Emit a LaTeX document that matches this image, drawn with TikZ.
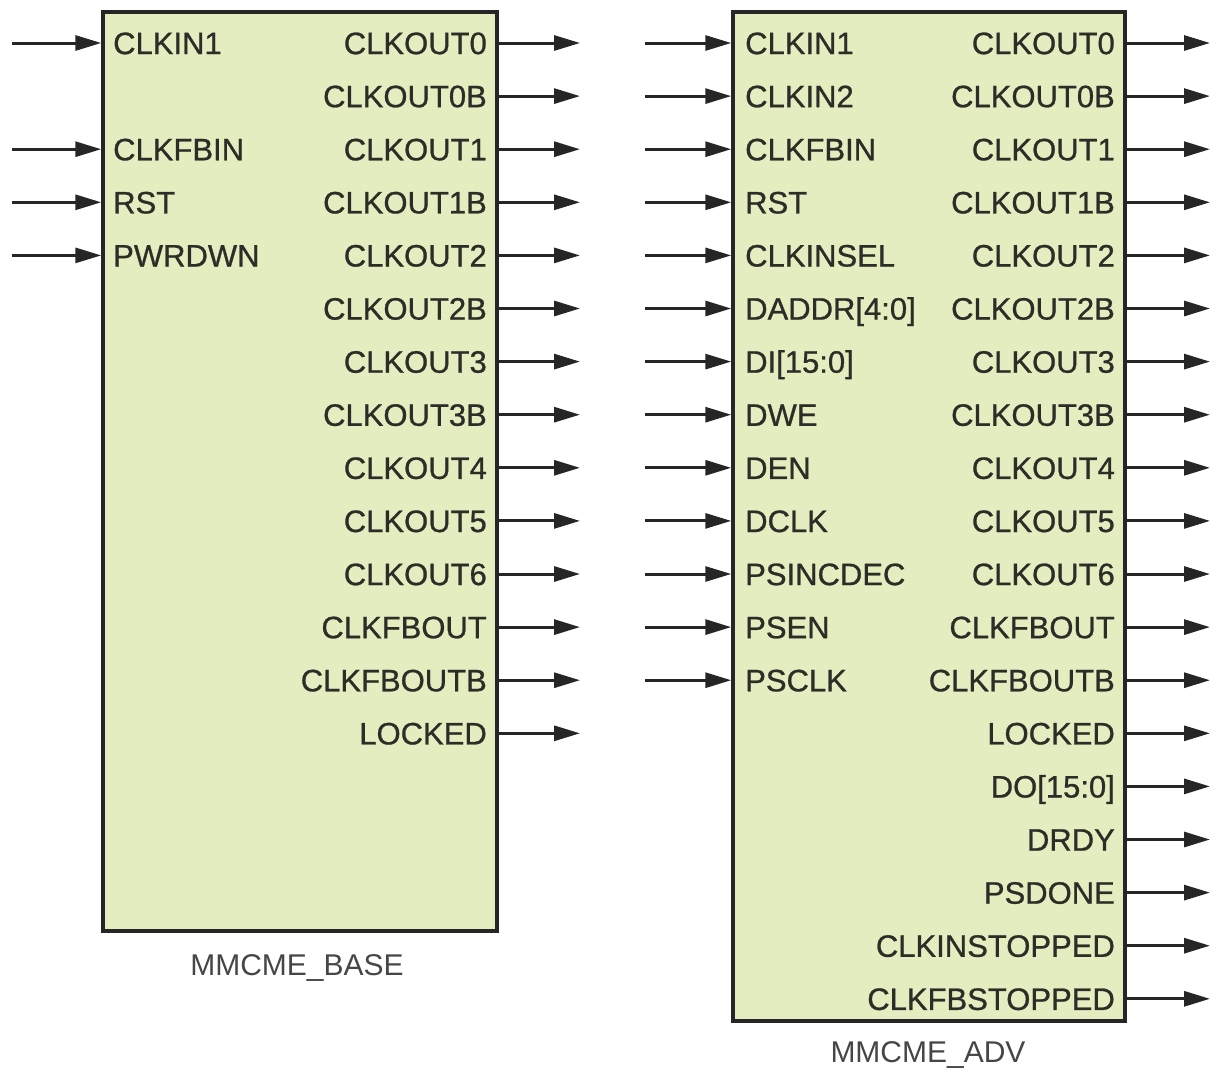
\documentclass[tikz,border=0pt]{standalone}
\usepackage{fontspec}
\setmainfont{Liberation Sans}
\newfontfamily\pinfont[FakeBold=0.8]{Liberation Sans}
\usetikzlibrary{arrows.meta}
\definecolor{boxfill}{RGB}{228,237,192}
\definecolor{txt}{RGB}{45,45,40}
\definecolor{ttl}{RGB}{70,70,70}
\tikzset{
  blk/.style={draw=black!85, line width=3.5pt, fill=boxfill, inner sep=0pt, rectangle},
  pin/.style={inner sep=0pt, text height=22.2pt, text depth=0pt, text=txt, font=\pinfont\fontsize{31}{33}\selectfont},
  pinl/.style={pin, anchor=west},
  pinr/.style={pin, anchor=east},
  ttlstyle/.style={inner sep=0pt, text=ttl, font=\fontsize{30}{32}\selectfont},
  arr/.style={draw=black!85, line width=3pt, -{Triangle[length=26pt,width=15pt]}},
}
\begin{document}
\begin{tikzpicture}[x=1pt,y=-1pt]
\useasboundingbox (0,0) rectangle (1222,1071);
% boxes
\node[blk, minimum width=394pt, minimum height=919pt] (base) at (300,471.5) {};
\node[blk, minimum width=392pt, minimum height=1009pt] (adv) at (929,516.5) {};
% titles
\node[ttlstyle] (tbase) at (297,968) {MMCME\_BASE};
\node[ttlstyle] (tadv) at (928,1055) {MMCME\_ADV};
% left box inputs
\foreach \n/\k in {CLKIN1/0, CLKFBIN/2, RST/3, PWRDWN/4} {
  \pgfmathsetmacro\yy{43+53.1*\k}
  \node[pinl] (bi\k) at (113,\yy) {\n};
  \coordinate (bis\k) at (12,\yy);
  \draw[arr] (bis\k) -- (bis\k -| base.west);
}
% left box outputs
\foreach \n [count=\i from 0] in {CLKOUT0,CLKOUT0B,CLKOUT1,CLKOUT1B,CLKOUT2,CLKOUT2B,CLKOUT3,CLKOUT3B,CLKOUT4,CLKOUT5,CLKOUT6,CLKFBOUT,CLKFBOUTB,LOCKED} {
  \pgfmathsetmacro\yy{43+53.1*\i}
  \node[pinr] (bo\i) at (487,\yy) {\n};
  \coordinate (boe\i) at (580,\yy);
  \draw[arr] (boe\i -| base.east) -- (boe\i);
}
% right box inputs
\foreach \n [count=\i from 0] in {CLKIN1,CLKIN2,CLKFBIN,RST,CLKINSEL,DADDR[4:0],DI[15:0],DWE,DEN,DCLK,PSINCDEC,PSEN,PSCLK} {
  \pgfmathsetmacro\yy{43+53.1*\i}
  \node[pinl] (ai\i) at (745,\yy) {\n};
  \coordinate (ais\i) at (645,\yy);
  \draw[arr] (ais\i) -- (ais\i -| adv.west);
}
% right box outputs
\foreach \n [count=\i from 0] in {CLKOUT0,CLKOUT0B,CLKOUT1,CLKOUT1B,CLKOUT2,CLKOUT2B,CLKOUT3,CLKOUT3B,CLKOUT4,CLKOUT5,CLKOUT6,CLKFBOUT,CLKFBOUTB,LOCKED,DO[15:0],DRDY,PSDONE,CLKINSTOPPED,CLKFBSTOPPED} {
  \pgfmathsetmacro\yy{43+53.1*\i}
  \node[pinr] (ao\i) at (1115,\yy) {\n};
  \coordinate (aoe\i) at (1210,\yy);
  \draw[arr] (aoe\i -| adv.east) -- (aoe\i);
}
\end{tikzpicture}
\end{document}
